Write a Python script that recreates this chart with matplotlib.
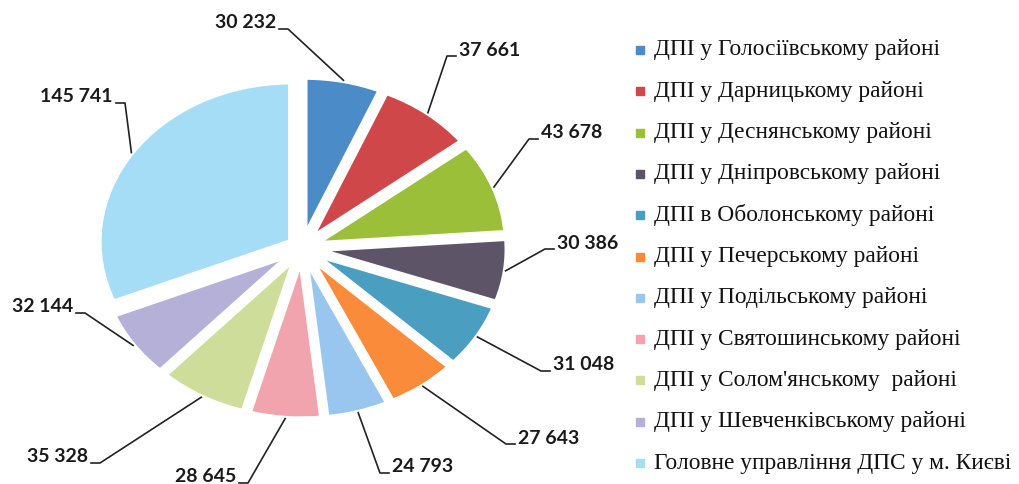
import numpy as np
import matplotlib.pyplot as plt
from matplotlib.patches import Rectangle
from matplotlib.lines import Line2D

# data
districts = [
    'ДПІ у Голосіївському районі',
    'ДПІ у Дарницькому районі',
    'ДПІ у Деснянському районі',
    'ДПІ у Дніпровському районі',
    'ДПІ в Оболонському районі',
    'ДПІ у Печерському районі',
    'ДПІ у Подільському районі',
    'ДПІ у Святошинському районі',
    "ДПІ у Солом'янському  районі",
    'ДПІ у Шевченківському районі',
    'Головне управління ДПС у м. Києві',
]
values = [30232, 37661, 43678, 30386, 31048, 27643, 24793, 28645, 35328, 32144, 145741]
colors = ['#4a8bc8', '#d0474a', '#9cbf3a', '#5d5468', '#4a9ec0', '#f98b3a',
          '#99c6ee', '#f1a4ae', '#cede9a', '#b5b0d8', '#a5ddf6']

# label layout in pixels: (x of text edge next to the line, y centre, side of text)
label_pos = [(276, 23, 'left'), (459, 50, 'right'), (541, 133, 'right'),
             (557, 243, 'right'), (553, 365, 'right'), (518, 438, 'right'),
             (392, 467, 'right'), (236, 477, 'left'), (88, 457, 'left'),
             (73, 307, 'left'), (113, 97, 'left')]

W, H = 1020, 484
explode_r = 0.07

fig = plt.figure(figsize=(W / 100, H / 100), dpi=100)

def fx(px):
    return px / W

def fy(py):
    return 1 - py / H

# pie is an ellipse: wider than tall
cx, cy, rx, ry = 302, 248, 192, 160
ax = fig.add_axes([fx(cx - 1.25 * rx), fy(cy + 1.25 * ry), 2.5 * rx / W, 2.5 * ry / H])
wedges, _ = ax.pie(values, colors=colors, startangle=90, counterclock=False,
                   explode=[explode_r] * len(values),
                   wedgeprops=dict(linewidth=4, edgecolor='white'))
ax.set_aspect('auto')
ax.set_xlim(-1.25, 1.25)
ax.set_ylim(-1.25, 1.25)
ax.axis('off')

to_fig = fig.transFigure.inverted()
for w, v, (tx, ty, side) in zip(wedges, values, label_pos):
    mid = np.deg2rad((w.theta1 + w.theta2) / 2)
    px_, py_ = (1 + explode_r) * np.cos(mid), (1 + explode_r) * np.sin(mid)
    ax_pt = to_fig.transform(ax.transData.transform((px_, py_)))
    txt = f'{v:,}'.replace(',', ' ')
    if side == 'right':
        fig.text(fx(tx), fy(ty), txt, ha='left', va='center', fontsize=14,
                 fontweight='bold', family='Lato', color='#1a1a1a')
        s0, s1 = tx - 3, tx - 12
    else:
        fig.text(fx(tx), fy(ty), txt, ha='right', va='center', fontsize=14,
                 fontweight='bold', family='Lato', color='#1a1a1a')
        s0, s1 = tx + 3, tx + 12
    sy = fy(ty + 6)
    fig.add_artist(Line2D([fx(s0), fx(s1), ax_pt[0]], [sy, sy, ax_pt[1]],
                          color='#222222', lw=1.2, transform=fig.transFigure))

# legend drawn by hand
y0, step = 50, 41.3
for i, (name, c) in enumerate(zip(districts, colors)):
    y = y0 + i * step
    fig.add_artist(Rectangle((fx(636), fy(y + 4)), 8 / W, 8 / H, color=c,
                             transform=fig.transFigure))
    fig.text(fx(654), fy(y), name, ha='left', va='center', fontsize=16.8,
             family='Liberation Serif', color='#111111')

fig.savefig('out.png', dpi=100)
